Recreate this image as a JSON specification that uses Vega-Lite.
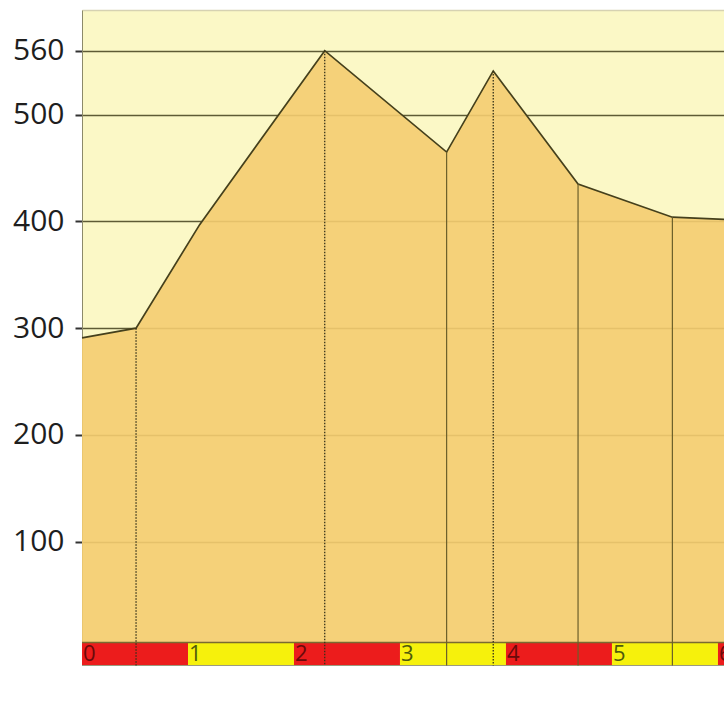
{
  "$schema": "https://vega.github.io/schema/vega-lite/v6.json",
  "width": 642,
  "height": 692,
  "autosize": "none",
  "padding": {"left": 82, "top": 10, "right": 0, "bottom": 0},
  "background": "white",
  "config": {"view": {"fill": "#fbf8c6", "stroke": null}},
  "datasets": {
    "profile": [
      {"km": 0, "elev": 291},
      {"km": 0.51, "elev": 300},
      {"km": 1.11, "elev": 397},
      {"km": 2.29, "elev": 560},
      {"km": 3.44, "elev": 465},
      {"km": 3.88, "elev": 541},
      {"km": 4.68, "elev": 435},
      {"km": 5.57, "elev": 404},
      {"km": 6.06, "elev": 402}
    ],
    "waypoints": [
      {"km": 0.51, "elev": 300, "style": "dotted"},
      {"km": 2.29, "elev": 560, "style": "dotted"},
      {"km": 3.44, "elev": 465, "style": "solid"},
      {"km": 3.88, "elev": 541, "style": "dotted"},
      {"km": 4.68, "elev": 435, "style": "solid"},
      {"km": 5.57, "elev": 404, "style": "solid"}
    ],
    "bands": [
      {"start": 0, "end": 1, "label": "0", "band": "red"},
      {"start": 1, "end": 2, "label": "1", "band": "yellow"},
      {"start": 2, "end": 3, "label": "2", "band": "red"},
      {"start": 3, "end": 4, "label": "3", "band": "yellow"},
      {"start": 4, "end": 5, "label": "4", "band": "red"},
      {"start": 5, "end": 6, "label": "5", "band": "yellow"},
      {"start": 6, "end": 7, "label": "6", "band": "red"}
    ]
  },
  "layer": [
    {
      "data": {"name": "profile"},
      "mark": {"type": "area", "fill": "#f4cc70", "fillOpacity": 0.9},
      "encoding": {
        "x": {
          "field": "km", "type": "quantitative",
          "scale": {"domain": [0, 6.057], "nice": false, "zero": false},
          "axis": {"orient": "top", "labels": false, "ticks": false, "grid": false, "title": null, "domain": true, "domainColor": "#d6d2b2", "domainWidth": 1.5}
        },
        "y": {
          "field": "elev", "type": "quantitative",
          "scale": {"domain": [-50.2, 598.1], "nice": false, "zero": false},
          "axis": {
            "values": [100, 200, 300, 400, 500, 560],
            "title": null,
            "grid": true, "gridColor": "#5e5b35", "gridWidth": 1.5,
            "domain": true, "domainColor": "#8c8a6a", "domainWidth": 1,
            "ticks": true, "tickSize": 7, "tickColor": "#333333", "tickWidth": 2,
            "labelFont": "Open Sans", "labelFontSize": 30, "labelColor": "#1e1e1e", "labelPadding": 11
          }
        },
        "y2": {"datum": 0}
      }
    },
    {
      "data": {"name": "profile"},
      "mark": {"type": "line", "stroke": "#45401c", "strokeWidth": 1.7},
      "encoding": {
        "x": {"field": "km", "type": "quantitative"},
        "y": {"field": "elev", "type": "quantitative"}
      }
    },
    {
      "data": {"values": [{}]},
      "mark": {"type": "rect", "fill": "white"},
      "encoding": {
        "x": {"datum": 0, "type": "quantitative"},
        "x2": {"datum": 6.057},
        "y": {"datum": -16, "type": "quantitative"},
        "y2": {"datum": -50.2}
      }
    },
    {
      "data": {"name": "bands"},
      "mark": {"type": "rect", "clip": true},
      "encoding": {
        "x": {"field": "start", "type": "quantitative"},
        "x2": {"field": "end"},
        "y": {"datum": 5.6, "type": "quantitative"},
        "y2": {"datum": -16},
        "fill": {"field": "band", "type": "nominal", "scale": {"domain": ["red", "yellow"], "range": ["#ec1c1c", "#f6f10c"]}, "legend": null}
      }
    },
    {
      "data": {"values": [{}]},
      "mark": {"type": "rule", "stroke": "#7a6a30", "strokeWidth": 1.5},
      "encoding": {
        "x": {"datum": 0, "type": "quantitative"},
        "x2": {"datum": 6.057},
        "y": {"datum": 5.6, "type": "quantitative"}
      }
    },
    {
      "data": {"values": [{}]},
      "mark": {"type": "rule", "stroke": "#9a9a80", "strokeWidth": 1},
      "encoding": {
        "x": {"datum": 0, "type": "quantitative"},
        "x2": {"datum": 6.057},
        "y": {"datum": -16, "type": "quantitative"}
      }
    },
    {
      "data": {"name": "bands"},
      "mark": {"type": "text", "align": "left", "baseline": "middle", "dx": 1, "font": "Open Sans", "fontSize": 22, "clip": true},
      "encoding": {
        "x": {"field": "start", "type": "quantitative"},
        "y": {"datum": -5.5, "type": "quantitative"},
        "text": {"field": "label"},
        "fill": {"condition": {"test": "datum.band === 'red'", "value": "#6a0a0a"}, "value": "#4f5a0c"}
      }
    },
    {
      "data": {"name": "waypoints"},
      "transform": [{"filter": "datum.style === 'dotted'"}],
      "mark": {"type": "rule", "stroke": "#35321a", "strokeWidth": 1.3, "strokeDash": [1.5, 1.5]},
      "encoding": {
        "x": {"field": "km", "type": "quantitative"},
        "y": {"field": "elev", "type": "quantitative"},
        "y2": {"datum": -16}
      }
    },
    {
      "data": {"name": "waypoints"},
      "transform": [{"filter": "datum.style === 'solid'"}],
      "mark": {"type": "rule", "stroke": "#6b5f2a", "strokeWidth": 1.2},
      "encoding": {
        "x": {"field": "km", "type": "quantitative"},
        "y": {"field": "elev", "type": "quantitative"},
        "y2": {"datum": -16}
      }
    }
  ]
}
